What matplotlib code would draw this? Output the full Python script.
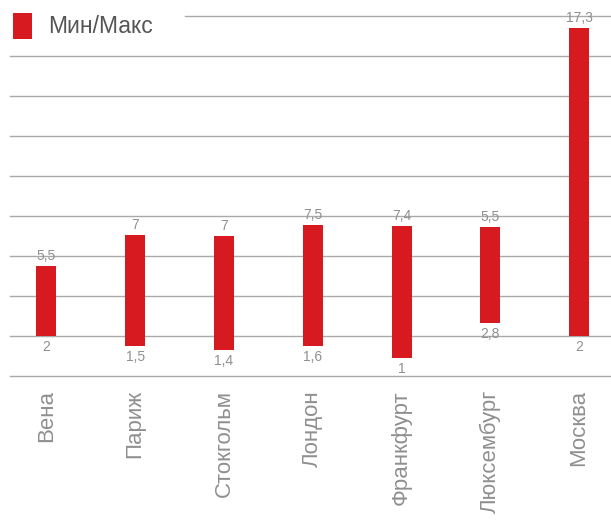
import numpy as np
import matplotlib
matplotlib.use("Agg")
import matplotlib.pyplot as plt
from matplotlib.patches import Patch

plt.rcParams.update({
    "font.family": ["Liberation Sans", "DejaVu Sans"],
    "font.size": 12
})

# data (bar extents as drawn, labels as printed)
cities = ["Вена", "Париж", "Стокгольм", "Лондон", "Франкфурт", "Люксембург", "Москва"]
v_min = [2, 1.5, 1.3, 1.5, 0.9, 2.65, 2]
v_max = [5.5, 7.05, 7.0, 7.55, 7.5, 7.45, 17.4]
min_labels = ["2", "1,5", "1,4", "1,6", "1", "2,8", "2"]
max_labels = ["5,5", "7", "7", "7,5", "7,4", "5,5", "17,3"]

red = "#d71920"
grey_txt = "#8f8f8f"
grid_c = "#a9a9a9"

fig = plt.figure(figsize=(6.11, 5.26), dpi=100)
ax = fig.add_axes([10/611, 150/526, 601/611, 360/526])

x = np.arange(len(cities))
v_min = np.array(v_min)
v_max = np.array(v_max)

for yv in range(0, 18, 2):
    ax.axhline(yv, color=grid_c, lw=1, zorder=1, clip_on=False)
# top line starts right of the legend
ax.axhline(18, xmin=175/601, color=grid_c, lw=1, zorder=1, clip_on=False)

ax.bar(x, v_max - v_min, bottom=v_min, width=0.225, color=red, zorder=3)

for xi, lo, hi, lo_s, hi_s in zip(x, v_min, v_max, min_labels, max_labels):
    ax.annotate(hi_s, (xi, hi), xytext=(0, 2), textcoords="offset points",
                ha="center", va="bottom", fontsize=10, color=grey_txt, zorder=4)
    ax.annotate(lo_s, (xi, lo), xytext=(0, -3), textcoords="offset points",
                ha="center", va="top", fontsize=10, color=grey_txt, zorder=4)

ax.set_xlim(-0.411, 6.36)
ax.set_ylim(0, 18)
ax.set_yticks([])
ax.set_xticks(x)
ax.set_xticklabels(cities, rotation=90, fontsize=16, color=grey_txt)
ax.tick_params(axis="x", length=0, pad=10)
for s in ax.spines.values():
    s.set_visible(False)

leg = fig.legend(handles=[Patch(facecolor=red, edgecolor="none")], labels=["Мин/Макс"],
                 loc="upper left", bbox_to_anchor=(0.0, 1.0), frameon=False,
                 fontsize=16.5, handlelength=0.85, handleheight=1.4, handletextpad=0.7,
                 borderpad=0.45, borderaxespad=0.1)
for t in leg.get_texts():
    t.set_color("#555555")

plt.savefig("out.png", dpi=100)
